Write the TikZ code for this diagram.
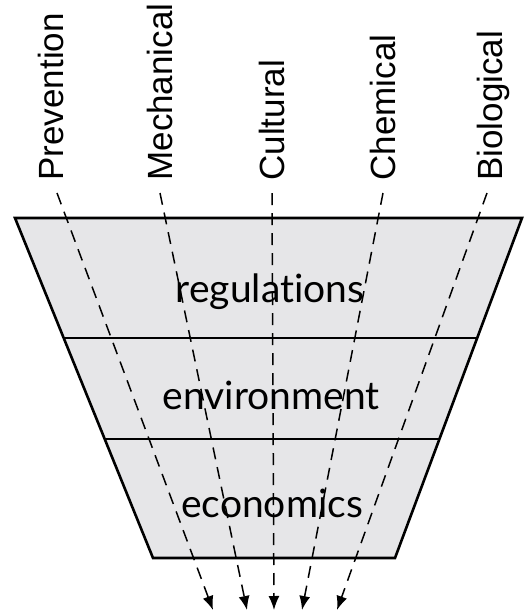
\documentclass[tikz,border=0pt]{standalone}
\usepackage{fontspec}
\setmainfont{Liberation Sans}
\newfontfamily\bandfont[Ligatures=NoCommon]{Lato}
\usepackage{xcolor}
\usetikzlibrary{arrows.meta}
\definecolor{bandgray}{RGB}{230,230,232}

\tikzset{
    funnel/.style={line width=1.3pt,line join=miter},
    flow/.style={dashed,dash pattern=on 6pt off 4pt,line width=0.75pt,-{Latex[length=7pt,width=5.5pt]}},
    method/.style={rotate=90,anchor=west,inner sep=0pt,font=\fontsize{17.5}{20}\selectfont},
    band/.style={font=\bandfont\fontsize{19.5}{22}\selectfont,inner sep=0pt}
}

\begin{document}
\begin{tikzpicture}[x=0.5pt,y=-0.5pt]
        \useasboundingbox (0,0) rectangle (527,612);
        % funnel
        \fill[bandgray] (15,218) -- (522,218) -- (395,558) -- (153,558) -- cycle;
        \node[band] (regs) at (270,292) {regulations};
        \node[band] (env) at (271,395) {environment};
        \node[band] (econ) at (272,503) {economics};
        \draw[funnel] (15,218) -- (522,218) -- (395,558) -- (153,558) -- cycle;
        \draw[funnel] (63,338) -- (478,338);
        \draw[funnel] (106,439) -- (440,439);
        % methods
        \node[method] (prev) at (51,181) {Prevention};
        \node[method] (mech) at (160,181) {Mechanical};
        \node[method] (cult) at (272,181) {Cultural};
        \node[method] (chem) at (383,181) {Chemical};
        \node[method] (bio) at (493,181) {Biological};
        \coordinate (prev-in) at (57,193);
        \coordinate (mech-in) at (160,193);
        \coordinate (cult-in) at (272,193);
        \coordinate (chem-in) at (383,193);
        \coordinate (bio-in) at (487,193);
        \coordinate (prev-out) at (213,610);
        \coordinate (mech-out) at (247,610);
        \coordinate (cult-out) at (274,610);
        \coordinate (chem-out) at (302,610);
        \coordinate (bio-out) at (337,610);
        \draw[flow] (prev-in) -- (prev-out);
        \draw[flow] (mech-in) -- (mech-out);
        \draw[flow] (cult-in) -- (cult-out);
        \draw[flow] (chem-in) -- (chem-out);
        \draw[flow] (bio-in) -- (bio-out);
\end{tikzpicture}
\end{document}
